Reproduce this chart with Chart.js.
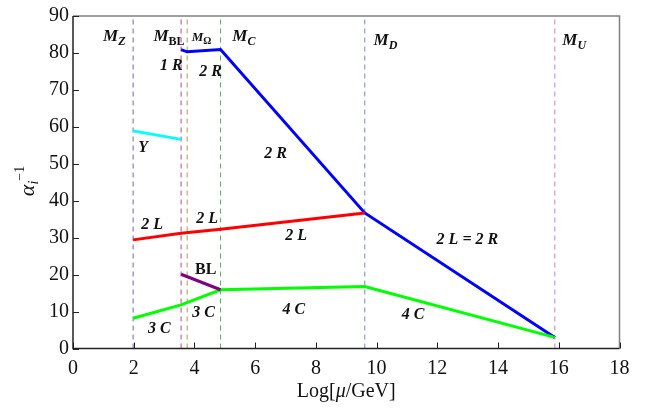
<!DOCTYPE html>
<html>
<head>
<meta charset="utf-8">
<script src="https://cdn.jsdelivr.net/npm/chart.js@4.4.1/dist/chart.umd.min.js"></script>
<style>
  body { margin: 0; background: #fff; }
  canvas { display: block; }
</style>
</head>
<body>
<canvas id="chart" width="663" height="416"></canvas>
<script>
// threshold scales (log10 of mu / GeV)
const thresholdNames = ['Z', 'BL', 'Ω', 'C', 'D', 'U'];
const thresholdScales = [1.98, 3.56, 3.76, 4.86, 9.61, 15.87];
const thresholdColors = ['#6a6ab8', '#b0507c', '#b09848', '#5aa86a', '#7090c4', '#c482c4'];

// inverse couplings
const rX = [3.56, 3.76, 4.86, 9.61, 15.87];
const rY = [80.9, 80.3, 80.9, 36.7, 3.0];
const lX = [1.98, 3.56, 4.86, 9.61];
const lY = [29.4, 31.2, 32.3, 36.7];
const cX = [1.98, 3.56, 4.86, 9.61, 15.87];
const cY = [8.2, 11.8, 15.9, 16.8, 3.0];
const blX = [3.56, 4.86];
const blY = [20.1, 15.9];
const yX = [1.98, 3.56];
const yY = [58.9, 56.6];

const xTicks = [0, 2, 4, 6, 8, 10, 12, 14, 16, 18];
const yTicks = [0, 10, 20, 30, 40, 50, 60, 70, 80, 90];

const SERIF = '"Liberation Serif", "Times New Roman", serif';

function pts(xs, ys) {
  return xs.map((v, i) => ({ x: v, y: ys[i] }));
}

function curve(label, xs, ys, color) {
  return {
    label: label,
    data: pts(xs, ys),
    borderColor: color,
    borderWidth: 3,
    borderCapStyle: 'butt',
    pointRadius: 0,
    tension: 0,
    order: 1
  };
}

const datasets = [];
thresholdScales.forEach((s, i) => {
  datasets.push({
    label: 'M' + thresholdNames[i],
    data: [{ x: s, y: 0 }, { x: s, y: 90 }],
    borderColor: thresholdColors[i],
    borderWidth: 1,
    borderDash: [5, 4],
    pointRadius: 0,
    order: 2
  });
});
datasets.push(curve('Y', yX, yY, '#00ffff'));
datasets.push(curve('BL', blX, blY, '#800080'));
datasets.push(curve('C', cX, cY, '#00ff00'));
datasets.push(curve('L', lX, lY, '#ff0000'));
datasets.push(curve('R', rX, rY, '#0000ff'));

// text labels: runs are [text, size, style, dy]
const BI = 'bold italic', B = 'bold', I = 'italic', N = 'normal';
const annotations = [
  { x: 1.36, y: 84.7, runs: [['M', 17, BI, 0], ['Z', 12, BI, 4]] },
  { x: 3.16, y: 84.7, runs: [['M', 17, BI, 0], ['BL', 12, B, 4]] },
  { x: 4.23, y: 84.3, runs: [['M', 13, BI, 0], ['Ω', 10, B, 3]] },
  { x: 5.63, y: 84.7, runs: [['M', 17, BI, 0], ['C', 12, BI, 4]] },
  { x: 10.29, y: 83.8, runs: [['M', 17, BI, 0], ['D', 12, BI, 4]] },
  { x: 16.51, y: 83.8, runs: [['M', 17, BI, 0], ['U', 12, BI, 4]] },
  { x: 3.24, y: 76.7, runs: [['1 R', 16, BI, 0]] },
  { x: 4.53, y: 75.2, runs: [['2 R', 16, BI, 0]] },
  { x: 2.31, y: 54.6, runs: [['Y', 16, BI, 0]] },
  { x: 6.67, y: 53.0, runs: [['2 R', 16, BI, 0]] },
  { x: 2.61, y: 33.7, runs: [['2 L', 16, BI, 0]] },
  { x: 4.42, y: 35.4, runs: [['2 L', 16, BI, 0]] },
  { x: 7.35, y: 30.7, runs: [['2 L', 16, BI, 0]] },
  { x: 12.99, y: 29.8, runs: [['2 L = 2 R', 16, BI, 0]] },
  { x: 4.37, y: 21.7, runs: [['BL', 16, B, 0]] },
  { x: 2.84, y: 5.7, runs: [['3 C', 16, BI, 0]] },
  { x: 4.30, y: 9.9, runs: [['3 C', 16, BI, 0]] },
  { x: 7.27, y: 10.8, runs: [['4 C', 16, BI, 0]] },
  { x: 11.20, y: 9.3, runs: [['4 C', 16, BI, 0]] }
];

function fontOf(r) {
  return (r[2] === N ? '' : r[2] + ' ') + r[1] + 'px ' + SERIF;
}

function drawRuns(ctx, runs, x0, baseline) {
  let x = x0;
  runs.forEach(r => {
    ctx.font = fontOf(r);
    ctx.fillText(r[0], x, baseline + r[3]);
    x += ctx.measureText(r[0]).width;
  });
}

function runsWidth(ctx, runs) {
  let w = 0;
  runs.forEach(r => {
    ctx.font = fontOf(r);
    w += ctx.measureText(r[0]).width;
  });
  return w;
}

const decorations = {
  id: 'decorations',
  afterDatasetsDraw(chart) {
    const { ctx, chartArea: a, scales } = chart;
    const xs = scales.x, ys = scales.y;
    ctx.save();

    // frame: top/right gray, left/bottom dark
    ctx.lineWidth = 1.5;
    ctx.strokeStyle = '#808080';
    ctx.beginPath();
    ctx.moveTo(a.left, a.top);
    ctx.lineTo(a.right, a.top);
    ctx.lineTo(a.right, a.bottom);
    ctx.stroke();
    ctx.strokeStyle = '#222';
    ctx.beginPath();
    ctx.moveTo(a.left, a.top);
    ctx.lineTo(a.left, a.bottom);
    ctx.lineTo(a.right, a.bottom);
    ctx.stroke();

    // inward tick marks
    ctx.lineWidth = 1;
    ctx.beginPath();
    xTicks.forEach(t => {
      const px = Math.round(xs.getPixelForValue(t)) + 0.5;
      ctx.moveTo(px, a.bottom);
      ctx.lineTo(px, a.bottom - 6);
    });
    yTicks.forEach(t => {
      const py = Math.round(ys.getPixelForValue(t)) + 0.5;
      ctx.moveTo(a.left, py);
      ctx.lineTo(a.left + 6, py);
    });
    ctx.stroke();

    // labels inside the plot
    ctx.fillStyle = '#111';
    ctx.textBaseline = 'alphabetic';
    ctx.textAlign = 'left';
    annotations.forEach(an => {
      const w = runsWidth(ctx, an.runs);
      const px = xs.getPixelForValue(an.x);
      const py = ys.getPixelForValue(an.y);
      drawRuns(ctx, an.runs, px - w / 2, py + an.runs[0][1] * 0.33);
    });

    // x axis title
    const xt = [['Log[', 20, N, 0], ['μ', 20, I, 0], ['/GeV]', 20, N, 0]];
    const xw = runsWidth(ctx, xt);
    drawRuns(ctx, xt, (a.left + a.right) / 2 - xw / 2, 397);

    // y axis title, rotated
    const yt = [['α', 22, I, 0], ['i', 14, I, 4], ['−1', 14, N, -10]];
    const yw = runsWidth(ctx, yt);
    ctx.translate(34, 181);
    ctx.rotate(-Math.PI / 2);
    drawRuns(ctx, yt, -yw / 2, 0);

    ctx.restore();
  }
};

new Chart(document.getElementById('chart'), {
  type: 'line',
  data: { datasets: datasets },
  options: {
    responsive: false,
    devicePixelRatio: 1,
    animation: false,
    layout: { padding: { top: 12, right: 43.5, left: 0, bottom: 0 } },
    plugins: {
      legend: { display: false },
      tooltip: { enabled: false }
    },
    scales: {
      x: {
        type: 'linear',
        min: 0,
        max: 18,
        afterFit: s => { s.height = 67.5; },
        afterBuildTicks: s => { s.ticks = xTicks.map(v => ({ value: v })); },
        grid: { display: false, drawTicks: false },
        border: { display: false },
        ticks: { padding: 8, color: '#111', maxRotation: 0, font: { family: SERIF, size: 20 } }
      },
      y: {
        type: 'linear',
        min: 0,
        max: 90,
        afterFit: s => { s.width = 73; },
        afterBuildTicks: s => { s.ticks = yTicks.map(v => ({ value: v })); },
        grid: { display: false, drawTicks: false },
        border: { display: false },
        ticks: { padding: 4, color: '#111', font: { family: SERIF, size: 20 } }
      }
    }
  },
  plugins: [decorations]
});
</script>
</body>
</html>
